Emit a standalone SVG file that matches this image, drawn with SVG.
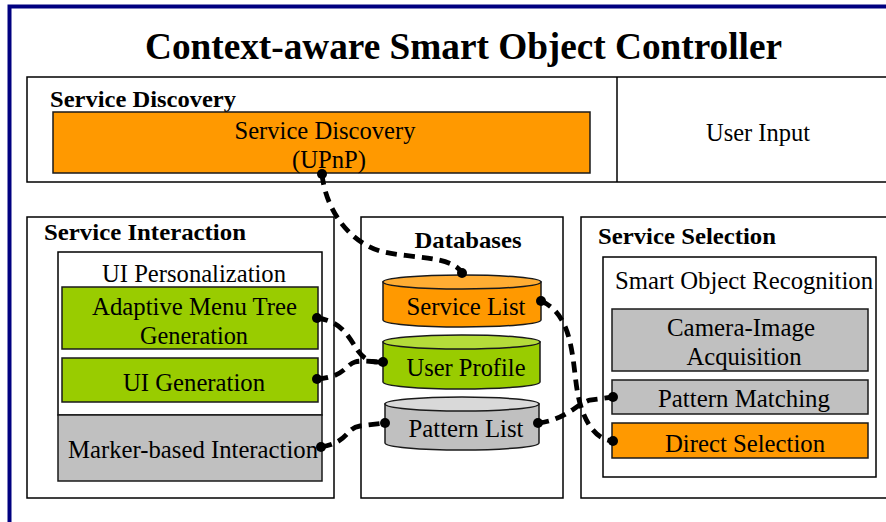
<svg xmlns="http://www.w3.org/2000/svg" width="886" height="522" viewBox="0 0 886 522">
  <style>
    .frame { fill: none; stroke: #000080; stroke-width: 4; }
    .box { fill: #fff; stroke: #000; stroke-width: 1.5; }
    .orange { fill: #FF9900; stroke: #1a1a1a; stroke-width: 1.5; }
    .green { fill: #99CC00; stroke: #1a1a1a; stroke-width: 1.5; }
    .gray { fill: #C0C0C0; stroke: #1a1a1a; stroke-width: 1.5; }
    .orange-top { fill: #FFAD33; stroke: #1a1a1a; stroke-width: 1.5; }
    .green-top { fill: #B5DC3A; stroke: #1a1a1a; stroke-width: 1.5; }
    .gray-top { fill: #D9D9D9; stroke: #1a1a1a; stroke-width: 1.5; }
    text { font-family: "Liberation Serif", "Times New Roman", serif; fill: #000; }
    .title { font-size: 38px; font-weight: bold; text-anchor: middle; }
    .head { font-size: 24px; font-weight: bold; }
    .lbl { font-size: 25px; }
    .mid { text-anchor: middle; }
    .link { fill: none; stroke: #000; stroke-width: 4.8; stroke-dasharray: 11 7; }
    .dot { fill: #000; }
  </style>

  <!-- outer frame -->
  <rect class="frame" x="9.5" y="6.5" width="920" height="560"/>
  <text class="title" x="463.5" y="59" textLength="637" lengthAdjust="spacingAndGlyphs">Context-aware Smart Object Controller</text>

  <!-- top band: discovery + user input -->
  <g id="service-discovery-panel">
    <rect class="box" x="27" y="77" width="900" height="105"/>
    <line x1="617" y1="77" x2="617" y2="182" stroke="#000" stroke-width="1.5"/>
    <text class="head" x="50" y="107" textLength="186" lengthAdjust="spacingAndGlyphs">Service Discovery</text>
  </g>
  <g id="service-discovery-upnp">
    <rect class="orange" x="53" y="112" width="537" height="61"/>
    <text class="lbl mid" x="325" y="139" textLength="181" lengthAdjust="spacingAndGlyphs">Service Discovery</text>
    <text class="lbl mid" x="329" y="168" textLength="74" lengthAdjust="spacingAndGlyphs">(UPnP)</text>
  </g>
  <g id="user-input">
    <text class="lbl mid" x="758" y="141" textLength="104" lengthAdjust="spacingAndGlyphs">User Input</text>
  </g>

  <!-- service interaction column -->
  <g id="service-interaction">
    <rect class="box" x="27" y="217" width="307" height="281"/>
    <text class="head" x="44" y="240" textLength="202" lengthAdjust="spacingAndGlyphs">Service Interaction</text>
  </g>
  <g id="ui-personalization">
    <rect class="box" x="58" y="252" width="264" height="163"/>
    <text class="lbl mid" x="194" y="282" textLength="184" lengthAdjust="spacingAndGlyphs">UI Personalization</text>
  </g>
  <g id="adaptive-menu-tree">
    <rect class="green" x="62" y="287" width="256" height="62"/>
    <text class="lbl mid" x="194.5" y="315" textLength="205" lengthAdjust="spacingAndGlyphs">Adaptive Menu Tree</text>
    <text class="lbl mid" x="194" y="344" textLength="108" lengthAdjust="spacingAndGlyphs">Generation</text>
  </g>
  <g id="ui-generation">
    <rect class="green" x="62" y="358" width="256" height="44"/>
    <text class="lbl mid" x="194" y="391" textLength="142" lengthAdjust="spacingAndGlyphs">UI Generation</text>
  </g>
  <g id="marker-based-interaction">
    <rect class="gray" x="58" y="415" width="264" height="66"/>
    <text class="lbl mid" x="193" y="458" textLength="250" lengthAdjust="spacingAndGlyphs">Marker-based Interaction</text>
  </g>

  <!-- databases column -->
  <g id="databases">
    <rect class="box" x="361" y="217" width="202" height="281"/>
    <text class="head mid" x="468" y="248" textLength="107" lengthAdjust="spacingAndGlyphs">Databases</text>
  </g>
  <g id="service-list">
    <path class="orange" d="M383,282 L383,320 A79,7 0 0 0 541,320 L541,282 Z"/>
    <ellipse class="orange-top" cx="462" cy="282" rx="79" ry="7"/>
    <text class="lbl mid" x="466" y="315" textLength="119" lengthAdjust="spacingAndGlyphs">Service List</text>
  </g>
  <g id="user-profile">
    <path class="green" d="M383,342 L383,382 A78.5,7 0 0 0 540,382 L540,342 Z"/>
    <ellipse class="green-top" cx="461.5" cy="342" rx="78.5" ry="7"/>
    <text class="lbl mid" x="466" y="376" textLength="119" lengthAdjust="spacingAndGlyphs">User Profile</text>
  </g>
  <g id="pattern-list">
    <path class="gray" d="M385,404 L385,443 A77,7 0 0 0 539,443 L539,404 Z"/>
    <ellipse class="gray-top" cx="462" cy="404" rx="77" ry="7"/>
    <text class="lbl mid" x="466" y="437" textLength="115" lengthAdjust="spacingAndGlyphs">Pattern List</text>
  </g>

  <!-- service selection column -->
  <g id="service-selection">
    <rect class="box" x="581" y="217" width="350" height="281"/>
    <text class="head" x="598" y="244" textLength="178" lengthAdjust="spacingAndGlyphs">Service Selection</text>
  </g>
  <g id="smart-object-recognition">
    <rect class="box" x="603" y="257" width="273" height="220"/>
    <text class="lbl" x="615" y="289" textLength="258" lengthAdjust="spacingAndGlyphs">Smart Object Recognition</text>
  </g>
  <g id="camera-image-acquisition">
    <rect class="gray" x="612" y="309" width="256" height="62"/>
    <text class="lbl mid" x="741" y="336" textLength="148" lengthAdjust="spacingAndGlyphs">Camera-Image</text>
    <text class="lbl mid" x="744" y="365" textLength="115" lengthAdjust="spacingAndGlyphs">Acquisition</text>
  </g>
  <g id="pattern-matching">
    <rect class="gray" x="612" y="380" width="256" height="34"/>
    <text class="lbl mid" x="744" y="407" textLength="172" lengthAdjust="spacingAndGlyphs">Pattern Matching</text>
  </g>
  <g id="direct-selection">
    <rect class="orange" x="612" y="423" width="256" height="35"/>
    <text class="lbl mid" x="745" y="452" textLength="160" lengthAdjust="spacingAndGlyphs">Direct Selection</text>
  </g>

  <!-- dashed links between components -->
  <g id="connectors">
    <path class="link" d="M322,174 C325,205 345,240 380,251 C410,259 452,255 462,273"/>
    <path class="link" d="M541,301 C575,315 572,365 578,395 C583,420 595,440 613,441"/>
    <path class="link" d="M317,318 C350,322 352,350 365,358 C372,363 378,362 383,362"/>
    <path class="link" d="M317,379 C345,377 345,365 355,362 C362,360 372,362 383,362"/>
    <path class="link" d="M321,447 C350,442 345,428 360,426 L385,423"/>
    <path class="link" d="M538,423 C565,420 575,405 590,400 L613,397"/>
    <circle class="dot" cx="322" cy="174" r="5"/>
    <circle class="dot" cx="462" cy="273" r="5"/>
    <circle class="dot" cx="541" cy="301" r="5"/>
    <circle class="dot" cx="613" cy="441" r="5"/>
    <circle class="dot" cx="317" cy="318" r="5"/>
    <circle class="dot" cx="317" cy="379" r="5"/>
    <circle class="dot" cx="383" cy="362" r="5"/>
    <circle class="dot" cx="321" cy="447" r="5"/>
    <circle class="dot" cx="385" cy="423" r="5"/>
    <circle class="dot" cx="538" cy="423" r="5"/>
    <circle class="dot" cx="613" cy="397" r="5"/>
  </g>
</svg>
